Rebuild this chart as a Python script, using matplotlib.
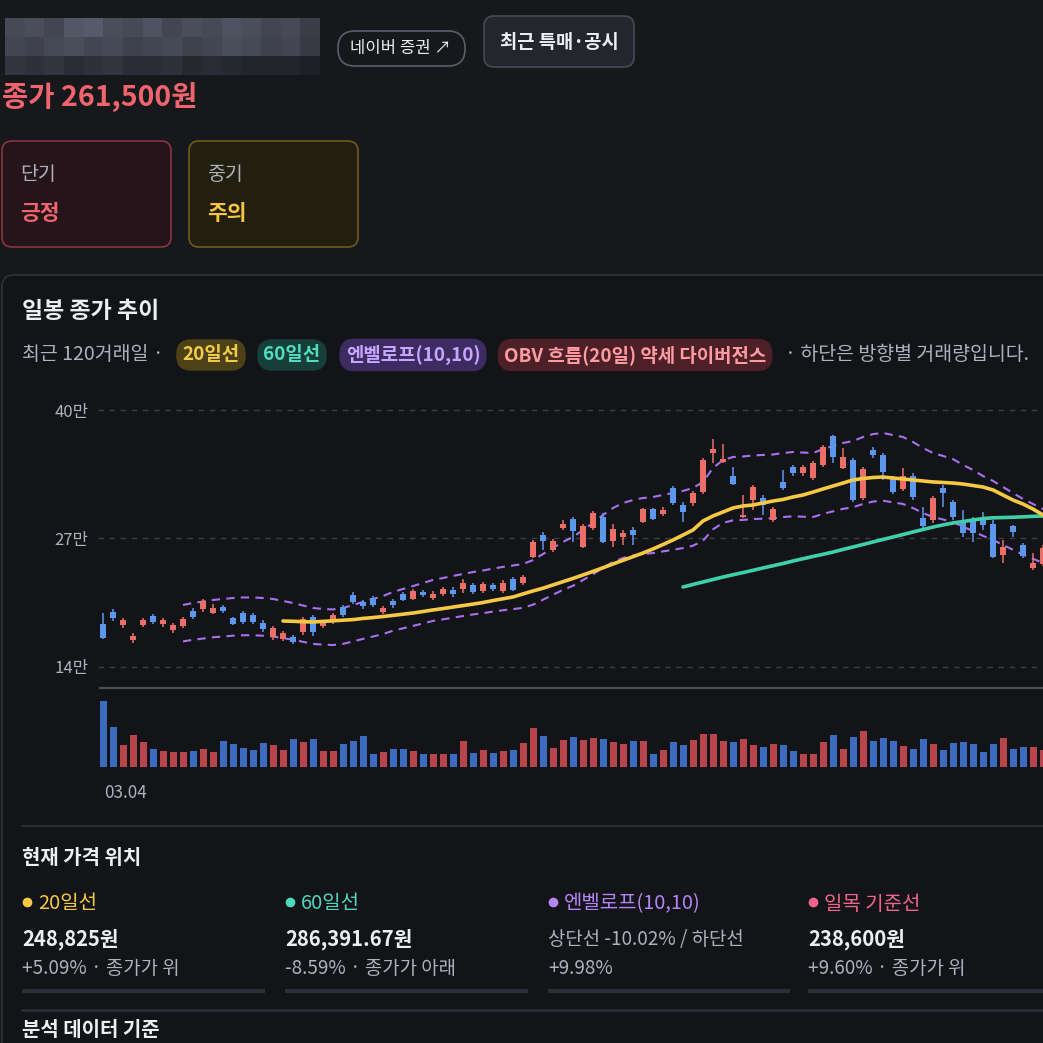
import numpy as np
import matplotlib
matplotlib.use("Agg")
import matplotlib.pyplot as plt
from matplotlib.patches import FancyBboxPatch
from matplotlib.colors import LinearSegmentedColormap

plt.rcParams['font.family'] = ['Noto Sans CJK KR', 'DejaVu Sans']

# 일봉 데이터 (단위: 천원)
opens = [183.5, 195.6, 182.5, 167.3, 182.5, 191.6, 183.5, 177.4, 181.5, 196.7,
         198.7, 194.6, 200.7, 189.6, 194.6, 192.6, 184.5, 170.3, 168.3, 170.3,
         175.4, 190.6, 181.5, 185.5, 200.7, 212.8, 205.8, 209.8, 195.6, 206.8,
         213.9, 208.8, 215.9, 209.8, 213.9, 217.9, 218.9, 222.9, 216.9, 222.9,
         216.9, 229.0, 225.0, 251.3, 273.5, 258.4, 280.6, 289.7, 261.4, 280.6,
         291.7, 267.5, 271.5, 278.6, 286.7, 299.8, 294.8, 321.1, 303.9, 305.9,
         317.0, 356.5, 347.4, 333.2, 291.7, 308.9, 311.0, 288.7, 327.2, 342.3,
         336.3, 331.2, 344.4, 373.7, 341.3, 349.4, 311.0, 359.5, 354.5, 331.2,
         320.1, 333.2, 290.7, 288.7, 321.1, 306.9, 285.7, 287.7, 290.7, 284.7,
         253.3, 282.6, 263.4, 240.2, 244.2]
highs = [194.6, 198.7, 189.6, 174.4, 189.6, 193.6, 189.6, 184.5, 190.6, 199.7,
         208.8, 203.7, 202.7, 190.6, 196.7, 194.6, 187.5, 181.5, 176.4, 172.4,
         190.6, 192.6, 186.5, 194.6, 202.7, 215.9, 207.8, 211.8, 201.7, 208.8,
         215.9, 218.9, 217.9, 216.9, 220.9, 220.9, 229.0, 225.0, 226.0, 225.0,
         228.0, 231.0, 233.1, 268.5, 276.6, 269.5, 288.7, 291.7, 284.7, 297.8,
         295.8, 284.7, 278.6, 281.6, 300.9, 300.9, 301.9, 323.1, 306.9, 318.0,
         351.4, 370.6, 365.6, 342.3, 314.0, 324.1, 314.0, 301.9, 339.3, 344.4,
         344.4, 348.4, 364.6, 374.7, 361.5, 351.4, 342.3, 362.6, 356.5, 333.2,
         341.3, 336.3, 301.9, 313.0, 324.1, 308.9, 298.8, 291.7, 296.8, 288.7,
         268.5, 283.7, 265.5, 255.3, 263.4]
lows = [168.3, 186.5, 179.4, 164.3, 180.5, 183.5, 180.5, 174.4, 179.4, 188.6,
        195.6, 193.6, 194.6, 182.5, 183.5, 183.5, 175.4, 167.3, 166.3, 163.3,
        172.4, 171.4, 179.4, 183.5, 190.6, 203.7, 198.7, 200.7, 193.6, 199.7,
        206.8, 207.8, 210.8, 207.8, 211.8, 210.8, 214.9, 213.9, 214.9, 216.9,
        214.9, 216.9, 222.9, 250.3, 258.4, 256.4, 278.6, 266.5, 260.4, 278.6,
        265.5, 261.4, 263.4, 263.4, 285.7, 288.7, 292.8, 303.9, 286.7, 302.9,
        315.0, 346.4, 346.4, 324.1, 290.7, 298.8, 293.8, 286.7, 319.1, 333.2,
        333.2, 329.2, 342.3, 346.4, 340.3, 306.9, 308.9, 351.4, 329.2, 315.0,
        318.1, 308.9, 280.6, 285.7, 301.9, 288.7, 271.5, 266.5, 278.6, 250.3,
        245.2, 271.5, 250.3, 238.1, 242.2]
closes = [169.3, 189.6, 187.5, 171.4, 187.5, 185.5, 187.5, 182.5, 188.6, 190.6,
          206.8, 199.7, 196.7, 183.5, 185.5, 185.5, 178.4, 179.4, 174.4, 165.3,
          188.6, 175.4, 184.5, 192.6, 192.6, 205.8, 201.7, 202.7, 199.7, 202.7,
          207.8, 216.9, 212.8, 213.9, 218.9, 213.9, 225.0, 215.9, 224.0, 218.9,
          225.0, 217.9, 231.0, 266.5, 267.5, 267.5, 284.7, 277.6, 282.6, 295.8,
          266.5, 279.6, 275.6, 273.5, 299.8, 289.7, 298.8, 305.9, 296.8, 316.0,
          349.4, 360.5, 350.4, 325.1, 293.8, 322.1, 303.9, 299.8, 321.1, 336.3,
          342.3, 346.4, 362.6, 352.4, 352.4, 308.9, 340.3, 354.5, 337.3, 317.0,
          333.2, 312.0, 282.6, 311.0, 316.0, 291.7, 275.6, 275.6, 283.7, 251.3,
          261.4, 276.6, 252.3, 245.2, 260.4]
volumes = [198, 120, 67, 97, 75, 55, 47, 45, 45, 47, 55, 44, 78, 68, 58, 52, 73, 65, 52, 85,
           74, 85, 47, 47, 70, 78, 92, 40, 44, 53, 55, 48, 40, 38, 38, 38, 77, 42, 52, 42,
           47, 50, 73, 117, 92, 57, 80, 90, 80, 87, 83, 75, 70, 78, 78, 40, 52, 74, 67, 82,
           100, 100, 78, 74, 85, 67, 60, 70, 67, 47, 40, 40, 74, 95, 54, 90, 107, 78, 87, 78,
           64, 55, 85, 68, 52, 73, 74, 68, 45, 70, 88, 55, 60, 60, 50]

# 이동평균선 (마지막 봉에 맞춰 끝남)
ma20 = [186.5, 186.2, 185.8, 185.5, 186.1, 186.7, 187.3, 187.9, 189.1, 190.0,
        191.0, 192.2, 193.4, 194.6, 196.1, 197.7, 199.1, 200.6, 202.1, 203.6,
        205.2, 207.2, 209.0, 210.8, 213.9, 216.9, 219.7, 223.0, 226.3, 229.6,
        233.1, 236.7, 240.4, 244.2, 247.9, 251.6, 255.3, 259.4, 263.9, 268.5,
        273.5, 278.6, 287.7, 292.8, 296.8, 300.9, 302.9, 303.9, 305.9, 307.9,
        309.5, 312.0, 314.0, 317.0, 320.1, 323.1, 326.1, 329.2, 330.7, 331.7,
        332.2, 331.2, 330.2, 329.2, 328.2, 327.2, 326.7, 326.1, 325.1, 323.6,
        322.1, 319.1, 314.0, 308.9, 304.9, 299.8, 293.8]
ma60 = [220.9, 223.5, 226.0, 228.5, 231.0, 233.3, 235.5, 237.8, 240.2, 242.4,
        244.7, 247.2, 249.5, 251.8, 254.0, 256.3, 258.9, 261.4, 263.9, 266.5,
        269.0, 271.5, 274.0, 276.6, 279.1, 281.6, 283.7, 285.7, 287.2, 288.7,
        290.2, 290.9, 291.2, 291.5, 291.9, 292.4, 292.8]
# 엔벨로프(10,10) 기준선
env_mid = [184.3, 186.1, 187.5, 188.9, 189.8, 190.7, 191.2, 191.2, 190.7, 189.8,
           188.0, 186.1, 183.8, 181.5, 180.6, 180.2, 181.5, 184.3, 187.1, 189.8,
           192.5, 196.3, 199.0, 201.7, 204.5, 207.3, 209.1, 211.0, 212.8, 214.6,
           216.0, 217.8, 219.3, 220.6, 222.0, 225.6, 231.2, 236.7, 242.3, 246.8,
           253.3, 259.7, 267.1, 273.5, 278.1, 280.8, 282.7, 283.6, 285.5, 287.3,
           289.2, 291.9, 297.5, 310.3, 317.6, 320.4, 320.9, 321.8, 322.3, 322.7,
           324.1, 325.0, 324.5, 324.1, 327.7, 330.5, 333.3, 335.1, 338.8, 341.5,
           342.5, 340.6, 338.8, 334.2, 328.7, 324.1, 321.4, 318.5, 313.1, 308.5,
           302.9, 298.4, 292.8, 287.3, 281.8, 277.2, 272.5]
env_pct = 10

price_ticks = [140, 270, 400]
price_labels = ['14만', '27만', '40만']
first_date = '03.04'

# 화면 색상
BG = '#17181c'
CARD = '#131418'
UP = '#ec6f67'
DOWN = '#5b97ec'
VOL_UP = '#b7454b'
VOL_DOWN = '#3d6bc0'
YELLOW = '#f6c945'
TEAL = '#3fd0aa'
PURPLE = '#a970f0'
PINK = '#f0658e'
GRAY = '#aeb2ba'
WHITE = '#eceef2'

W = H = 1043
fig = plt.figure(figsize=(10.43, 10.43), dpi=100, facecolor=BG)
bg = fig.add_axes([0, 0, 1, 1])
bg.set_facecolor(BG)
bg.axis('off')


def px_axes(x0, y0, x1, y1):
    return fig.add_axes([x0 / W, 1 - y1 / H, (x1 - x0) / W, (y1 - y0) / H])


def box(x, y, w, h, r, fc, ec, lw=1.2):
    bg.add_patch(FancyBboxPatch((x, y), w, h, boxstyle=f"round,pad=0,rounding_size={r}",
                                fc=fc, ec=ec, lw=lw))


# 상단: 가려진 종목명
mosaic = np.array([
    [.55, .6, .5, .7, .75, .6, .55, .65, .5, .6, .55, .65, .6, .5, .55, .4],
    [.5, .45, .55, .6, .5, .55, .45, .5, .55, .45, .5, .6, .55, .45, .5, .35],
    [.3, .25, .3, .2, .25, .3, .2, .2, .25, .15, .2, .15, .1, .1, .1, .05],
])
cmap = LinearSegmentedColormap.from_list('blur', ['#1c1d23', '#6a6f82'])
bg.imshow(mosaic, extent=(5, 320, 75, 18), cmap=cmap, vmin=0, vmax=1,
          aspect='auto', interpolation='nearest')

box(338, 31, 127, 35, 17, BG, '#5b5f69')
bg.text(401, 48, '네이버 증권 ↗', color=WHITE, fontsize=12, ha='center', va='center')
box(484, 16, 150, 51, 10, '#23262d', '#464a53')
bg.text(559, 42, '최근 특매·공시', color=WHITE, fontsize=13.5, fontweight='bold',
        ha='center', va='center')

bg.text(2, 98, '종가 261,500원', color='#f0646e', fontsize=20.5, fontweight='bold', va='center')

box(2, 141, 169, 106, 10, '#25141a', '#8a3540')
bg.text(20, 174, '단기', color=GRAY, fontsize=14, va='center')
bg.text(20, 213, '긍정', color='#f0646e', fontsize=15.5, fontweight='bold', va='center')
box(189, 141, 169, 106, 10, '#221e10', '#6e5c1c')
bg.text(207, 174, '중기', color=GRAY, fontsize=14, va='center')
bg.text(207, 213, '주의', color='#f5c542', fontsize=15.5, fontweight='bold', va='center')

# 차트 카드
box(2, 275, 1200, 900, 12, CARD, '#30333b')
bg.text(22, 312, '일봉 종가 추이', color=WHITE, fontsize=16.5, fontweight='bold', va='center')
bg.text(22, 355, '최근 120거래일 ·', color=GRAY, fontsize=14, va='center')
pills = [('20일선', 211, '#4d4118', '#f5cc4a'),
         ('60일선', 292, '#173f39', '#52dcc0'),
         ('엔벨로프(10,10)', 413, '#3d2b62', '#c7a6ff'),
         ('OBV 흐름(20일) 약세 다이버전스', 635, '#4d1f26', '#ff9ca3')]
for label, cx, fc, tc in pills:
    bg.text(cx, 355, label, color=tc, fontsize=13.6, fontweight='bold', ha='center', va='center',
            bbox=dict(boxstyle='round,pad=0.33,rounding_size=0.8', fc=fc, ec='none'))
bg.text(785, 355, '· 하단은 방향별 거래량입니다.', color=GRAY, fontsize=14, va='center')

# 가격 차트
n = len(closes)
x = np.arange(n)
ax = px_axes(98, 395, 1043, 680)
ax.set_facecolor('none')
for t in price_ticks:
    ax.axhline(t, color='#3c3f46', lw=1, dashes=(4, 4), zorder=1)

up = np.array(closes) >= np.array(opens)
colors = np.where(up, UP, DOWN)
ax.vlines(x, lows, highs, colors=colors, lw=1.1, zorder=3)
body_lo = np.minimum(opens, closes)
body_h = np.maximum(np.abs(np.array(closes) - np.array(opens)), 1.2)
ax.bar(x, body_h, bottom=body_lo, width=0.65, color=colors, zorder=3)

mid = np.array(env_mid)
xe = np.arange(n - len(mid), n)
ax.plot(xe, mid * (1 + env_pct / 100), color=PURPLE, lw=1.5, dashes=(4, 3), zorder=2)
ax.plot(xe, mid * (1 - env_pct / 100), color=PURPLE, lw=1.5, dashes=(4, 3), zorder=2)
ax.plot(np.arange(n - len(ma60), n), ma60, color=TEAL, lw=2.6, zorder=4,
        solid_capstyle='round')
ax.plot(np.arange(n - len(ma20), n), ma20, color=YELLOW, lw=2.6, zorder=4,
        solid_capstyle='round')

ax.set_xlim(-0.5, 94.0)
ax.set_ylim(126.8, 415.2)
ax.set_yticks(price_ticks)
ax.set_yticklabels(price_labels)
ax.tick_params(axis='y', length=0, pad=7, labelsize=12, labelcolor=GRAY)
ax.set_xticks([])
for s in ax.spines.values():
    s.set_visible(False)

bg.plot([100, 1043], [688, 688], color='#4a4d55', lw=1.6)

# 거래량
axv = px_axes(98, 695, 1043, 767)
axv.set_facecolor('none')
axv.bar(x, volumes, width=0.7, color=np.where(up, VOL_UP, VOL_DOWN))
axv.set_xlim(-0.5, 94.0)
axv.set_ylim(0, 215)
axv.axis('off')
bg.text(104, 793, first_date, color=GRAY, fontsize=12.2, va='center')

# 현재 가격 위치
bg.plot([22, 1043], [826, 826], color='#2a2d34', lw=1.5)
bg.text(22, 858, '현재 가격 위치', color=WHITE, fontsize=14.4, fontweight='bold', va='center')
cols = [(22, '20일선', YELLOW, '248,825원', '+5.09% · 종가가 위', 243),
        (285, '60일선', '#4fd6bb', '286,391.67원', '-8.59% · 종가가 아래', 243),
        (548, '엔벨로프(10,10)', '#b685f7', '상단선 -10.02% / 하단선', '+9.98%', 242),
        (808, '일목 기준선', PINK, '238,600원', '+9.60% · 종가가 위', 235)]
for cx, name, c, val, sub, wl in cols:
    bg.plot(cx + 5, 902, 'o', ms=7, color=c, mec='none')
    bg.text(cx + 16, 904, name, color=c, fontsize=14.4, va='center')
    if val.endswith('원'):
        bg.text(cx, 939, val, color=WHITE, fontsize=14.6, fontweight='bold', va='center')
    else:
        bg.text(cx, 939, val, color=GRAY, fontsize=13.6, va='center')
    bg.text(cx, 969, sub, color=GRAY, fontsize=13.6, va='center')
    bg.plot([cx, cx + wl], [991, 991], color='#2a2e36', lw=3, solid_capstyle='butt')
bg.plot([22, 1043], [1010, 1010], color='#2a2d34', lw=2)
bg.text(22, 1030, '분석 데이터 기준', color=WHITE, fontsize=14.4, fontweight='bold', va='center')

bg.set_xlim(0, W)
bg.set_ylim(H, 0)

fig.savefig('out.png', dpi=100, facecolor=BG)
